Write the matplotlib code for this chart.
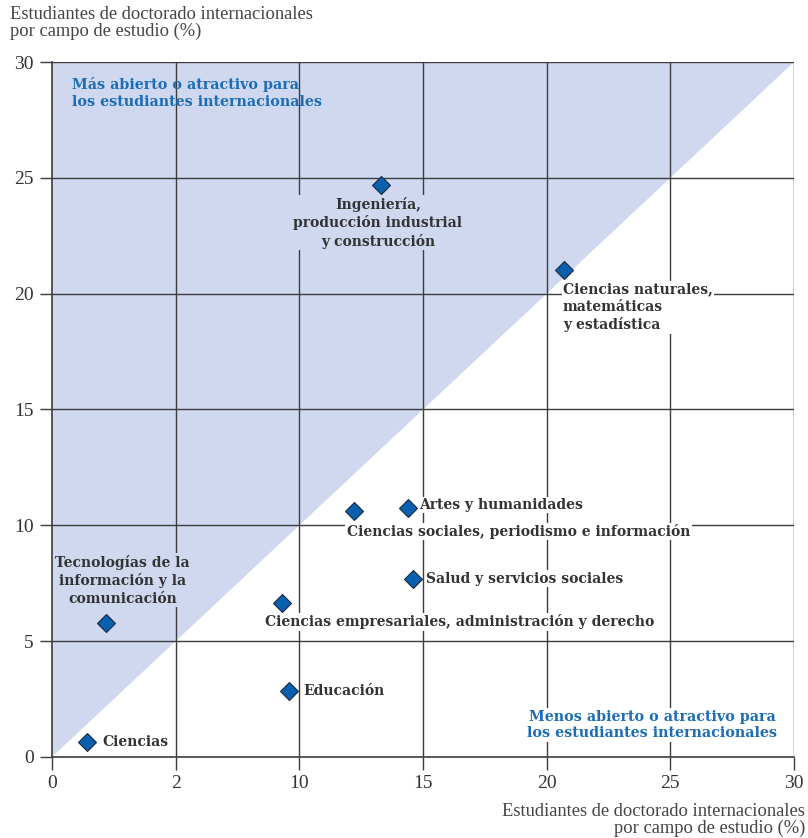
import matplotlib.pyplot as plt
from matplotlib.patches import Polygon

# Porcentaje de estudiantes de doctorado internacionales por campo de estudio
campos = [
    "Ciencias",
    "Tecnologías de la\ninformación y la\ncomunicación",
    "Educación",
    "Ciencias empresariales, administración y derecho",
    "Ciencias sociales, periodismo e información",
    "Artes y humanidades",
    "Salud y servicios sociales",
    "Ingeniería,\nproducción industrial\ny construcción",
    "Ciencias naturales,\nmatemáticas\ny estadística",
]
valores_x = [1.4, 2.2, 9.6, 9.3, 12.2, 14.4, 14.6, 13.3, 20.7]
valores_y = [0.65, 5.8, 2.85, 6.65, 10.6, 10.75, 7.7, 24.7, 21.0]

ticks = [0, 5, 10, 15, 20, 25, 30]
etiquetas_x = ["0", "2", "10", "15", "20", "25", "30"]
etiquetas_y = ["0", "5", "10", "15", "20", "25", "30"]

azul_fondo = "#cfd8ee"
azul_marca = "#0a5fae"
azul_texto = "#1c6db8"
gris_texto = "#333333"
gris_linea = "#3c3c3c"

# colocación de cada etiqueta: desplazamiento en pixeles, alineación, fondo
posiciones = [
    ((16, 0), "left", "center", "white"),
    ((16, 17), "center", "bottom", azul_fondo),
    ((14, 0), "left", "center", "white"),
    ((178, -19), "center", "center", "white"),
    ((-7, -20), "left", "center", "white"),
    ((11, 3), "left", "center", "white"),
    ((13, 0), "left", "center", "white"),
    ((-3, -12), "center", "top", azul_fondo),
    ((-1, -12), "left", "top", "white"),
]

fig = plt.figure(figsize=(8.08, 8.38), dpi=100)
ax = fig.add_axes([0.0644, 0.0967, 0.9183, 0.8293])
ax.set_xlim(0, 30)
ax.set_ylim(0, 30)

# zona por encima de la diagonal
ax.add_patch(Polygon([(0, 0), (0, 30), (30, 30)], closed=True,
                     facecolor=azul_fondo, edgecolor="none", zorder=0))

for t in ticks[1:]:
    ax.axvline(t, color=gris_linea, lw=1.0, zorder=1)
    ax.axhline(t, color=gris_linea, lw=1.0, zorder=1)

for s in ["top", "right"]:
    ax.spines[s].set_visible(False)
for s in ["left", "bottom"]:
    ax.spines[s].set_color(gris_linea)
    ax.spines[s].set_linewidth(1.2)

ax.set_xticks(ticks)
ax.set_xticklabels(etiquetas_x)
ax.set_yticks(ticks)
ax.set_yticklabels(etiquetas_y)
ax.tick_params(length=9, width=1.0, color=gris_linea, labelsize=14,
               labelcolor=gris_texto, pad=4)
for lab in ax.get_xticklabels() + ax.get_yticklabels():
    lab.set_family("Liberation Serif")

ax.plot(valores_x, valores_y, linestyle="none", marker="D", markersize=9,
        markerfacecolor=azul_marca, markeredgecolor="#1a2a40",
        markeredgewidth=0.8, zorder=4)

for campo, x, y, (off, ha, va, fondo) in zip(campos, valores_x, valores_y, posiciones):
    ax.annotate(campo, (x, y), xytext=off, textcoords="offset pixels",
                ha=ha, va=va, multialignment=ha,
                fontsize=10, fontweight="bold", family="DejaVu Serif",
                color=gris_texto, linespacing=1.3, zorder=3,
                bbox=dict(boxstyle="square,pad=0.1", facecolor=fondo, edgecolor="none"))

ax.text(0.027, 0.978, "Más abierto o atractivo para\nlos estudiantes internacionales",
        transform=ax.transAxes, ha="left", va="top", fontsize=10.3,
        fontweight="bold", family="DejaVu Serif", color=azul_texto,
        linespacing=1.25, zorder=3)
ax.text(0.809, 0.024, "Menos abierto o atractivo para\nlos estudiantes internacionales",
        transform=ax.transAxes, ha="center", va="bottom", fontsize=10.3,
        fontweight="bold", family="DejaVu Serif", color=azul_texto,
        linespacing=1.25, zorder=3,
        bbox=dict(boxstyle="square,pad=0.1", facecolor="white", edgecolor="none"))

fig.text(10 / 808, 1 - 6 / 838, "Estudiantes de doctorado internacionales\npor campo de estudio (%)",
         ha="left", va="top", fontsize=13.3, family="Liberation Serif",
         color="#444444", linespacing=0.95)
fig.text(805 / 808, 1 / 838, "Estudiantes de doctorado internacionales\npor campo de estudio (%)",
         ha="right", va="bottom", fontsize=13.3, family="Liberation Serif",
         color="#444444", linespacing=0.95, multialignment="right")

fig.savefig("out.png", dpi=100)
